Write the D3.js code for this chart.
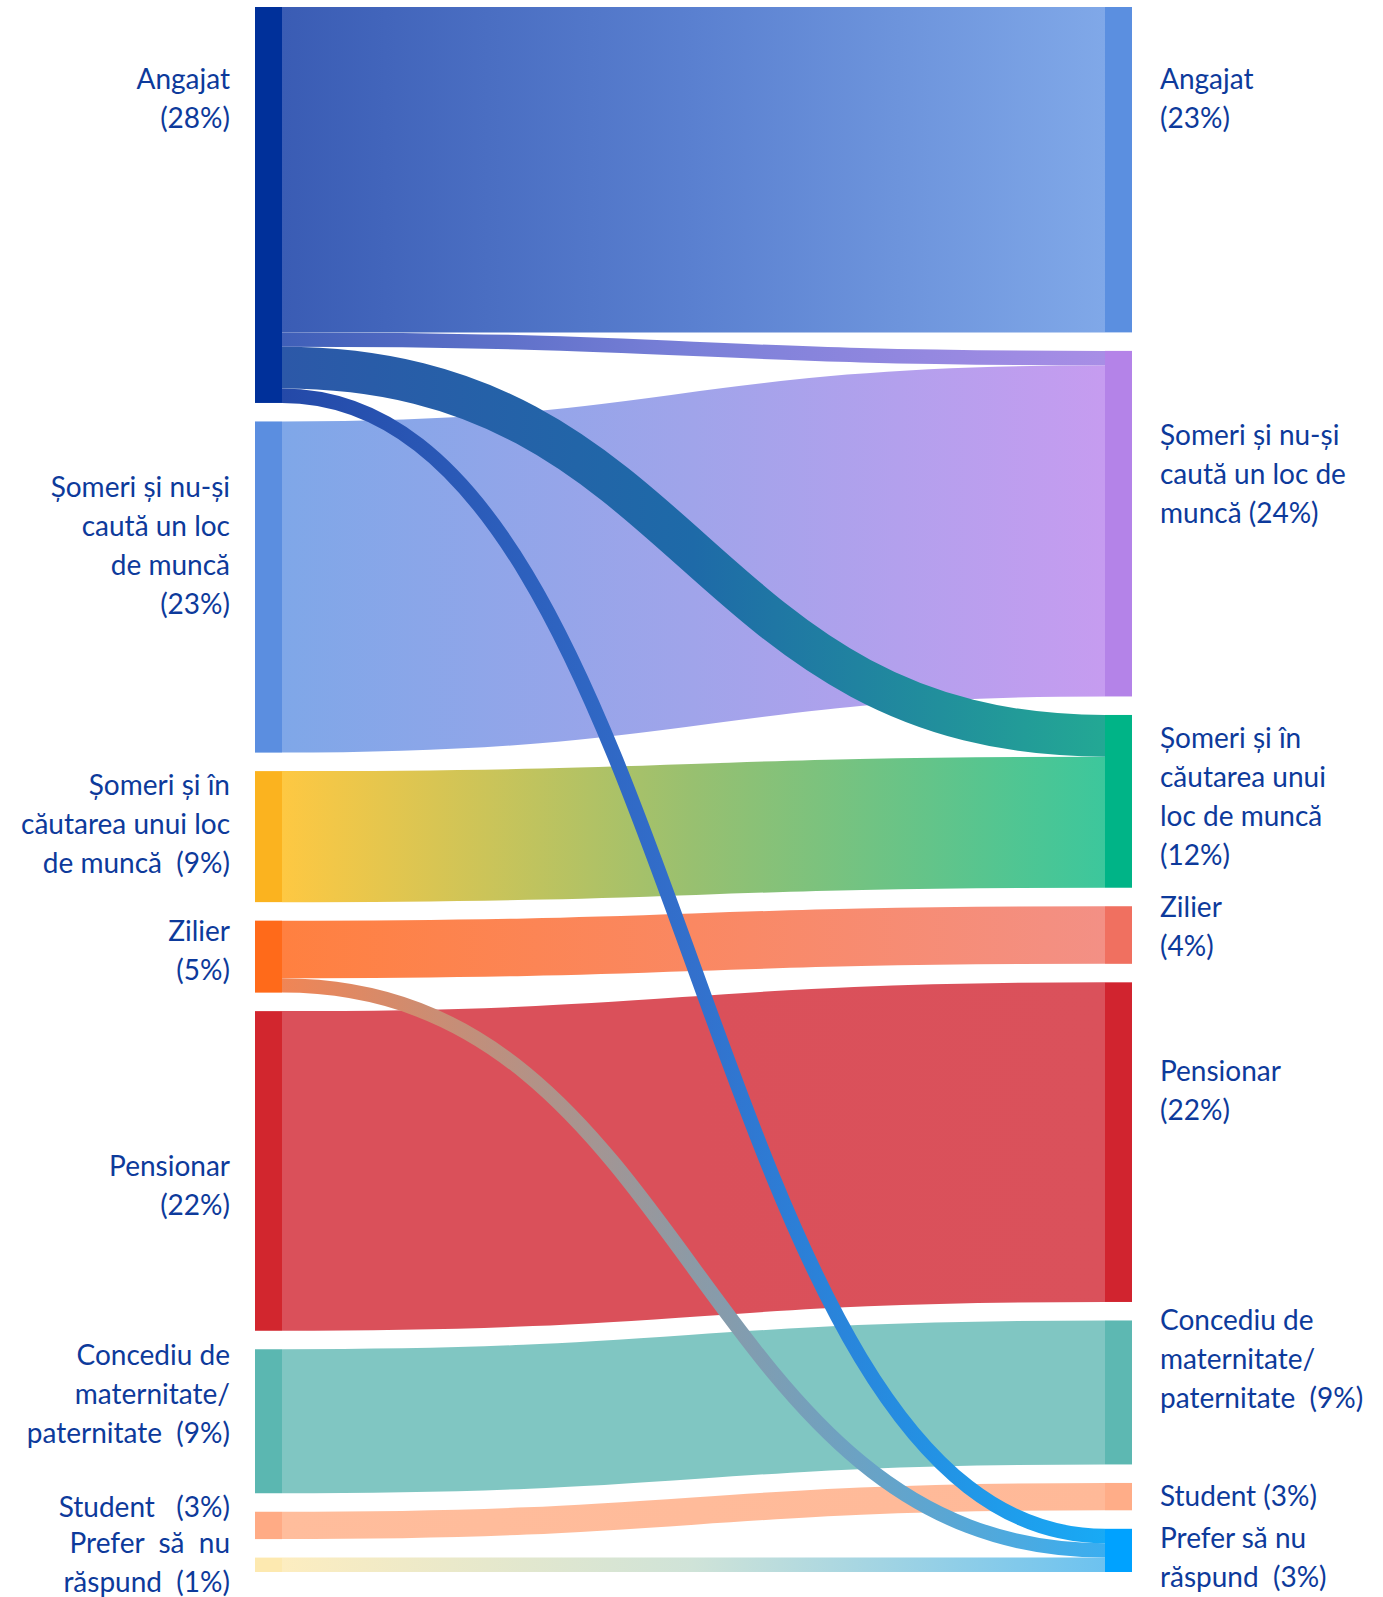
<!DOCTYPE html>
<html>
<head>
<meta charset="utf-8">
<script src="https://cdn.jsdelivr.net/npm/d3@7"></script>
<style>
  body { margin: 0; background: #fff; }
  text { font-family: Lato, "Open Sans", sans-serif; font-size: 28px; fill: #0d3a9b; white-space: pre; }
</style>
</head>
<body>
<svg id="chart" width="1383" height="1597"></svg>
<script>
// categories (same order on both sides)
const nodeKeys = ["ang", "snc", "sic", "zil", "pen", "con", "stu", "pref"];

// flows, values in % of respondents
const flowSource = ["ang", "ang", "ang", "ang", "snc", "sic", "zil", "zil", "pen", "con", "stu", "pref"];
const flowTarget = ["ang", "snc", "sic", "pref", "snc", "sic", "zil", "pref", "pen", "con", "stu", "pref"];
const flowValue  = [22.6, 1.0, 2.9, 1.0, 23.0, 9.1, 4.0, 1.0, 22.2, 10.0, 1.9, 1.0];

// labels
const leftLabels = [
  ["Angajat", "(28%)"],
  ["Șomeri și nu-și", "caută un loc", "de muncă", "(23%)"],
  ["Șomeri și în", "căutarea unui loc", "de muncă  (9%)"],
  ["Zilier", "(5%)"],
  ["Pensionar", "(22%)"],
  ["Concediu de", "maternitate/", "paternitate  (9%)"],
  ["Student   (3%)"],
  ["Prefer  să  nu", "răspund  (1%)"]
];
const rightLabels = [
  ["Angajat", "(23%)"],
  ["Șomeri și nu-și", "caută un loc de", "muncă (24%)"],
  ["Șomeri și în", "căutarea unui", "loc de muncă", "(12%)"],
  ["Zilier", "(4%)"],
  ["Pensionar", "(22%)"],
  ["Concediu de", "maternitate/", "paternitate  (9%)"],
  ["Student (3%)"],
  ["Prefer să nu", "răspund  (3%)"]
];

// colours
const leftColors  = ["#00309a", "#5b8ee0", "#fbb31f", "#ff6a1a", "#d2262e", "#5bb7b1", "#ffab85", "#fde9b0"];
const rightColors = ["#5b8fe0", "#b483e8", "#00b487", "#f07060", "#d1242f", "#5db8b2", "#ffad88", "#00a2ff"];
const linkColors = [
  ["#3a5cb4", "#5a80d0", "#80a8e8"],
  ["#3f5fb8", "#7a80d8", "#a88ee6"],
  ["#2c58a8", "#1e6aa8", "#23a894"],
  ["#2449a8", "#3370cc", "#18aaf5"],
  ["#7fa7e8", "#a0a4ea", "#c69cf0"],
  ["#fec842", "#98c070", "#3cc79c"],
  ["#ff8040", "#fa8862", "#f39085"],
  ["#f08555", "#8c9aa6", "#3aaef0"],
  ["#da505a", "#da505a", "#da515b"],
  ["#80c6c2", "#80c6c2", "#80c6c2"],
  ["#ffbd9c", "#ffbb9a", "#ffb998"],
  ["#fdedc0", "#cfe3d8", "#6cc2f0"]
];

// label placement: first line offset from node top
const leftLabelOffset  = [71, 65, 13, 9, 154, 5, -6, -16];
const rightLabelOffset = [71, 83, 22, 0, 88, -1, 12, 8];

const svg = d3.select("#chart");
const yTop = 7, yBottom = 1572, gap = 18.5, nodeW = 27, lineH = 39;

const x = d3.scaleLinear().domain([0, 1]).range([255, 1105]);
const total = d3.sum(flowValue);
const y = d3.scaleLinear().domain([0, total]).range([0, yBottom - yTop - gap * (nodeKeys.length - 1)]);

const links = flowValue.map((v, i) => ({
  i, value: v,
  s: nodeKeys.indexOf(flowSource[i]),
  t: nodeKeys.indexOf(flowTarget[i])
}));

function buildSide(side) {
  let cur = yTop;
  return nodeKeys.map((k, idx) => {
    const value = d3.sum(links.filter(l => (side === 0 ? l.s : l.t) === idx), l => l.value);
    const n = { idx, value, y0: cur, y1: cur + y(value) };
    cur = n.y1 + gap;
    return n;
  });
}
const leftNodes = buildSide(0);
const rightNodes = buildSide(1);

// slot positions
leftNodes.forEach(n => {
  let cur = n.y0;
  links.filter(l => l.s === n.idx).sort((a, b) => a.t - b.t).forEach(l => {
    l.sy = cur + y(l.value) / 2; cur += y(l.value);
  });
});
rightNodes.forEach(n => {
  let cur = n.y0;
  links.filter(l => l.t === n.idx).sort((a, b) => a.s - b.s).forEach(l => {
    l.ty = cur + y(l.value) / 2; cur += y(l.value);
  });
});

const defs = svg.append("defs");
links.forEach(l => {
  const g = defs.append("linearGradient")
    .attr("id", "grad" + l.i)
    .attr("gradientUnits", "userSpaceOnUse")
    .attr("x1", x(0) + nodeW).attr("x2", x(1))
    .attr("y1", 0).attr("y2", 0);
  linkColors[l.i].forEach((c, j) => {
    g.append("stop").attr("offset", (j / 2 * 100) + "%").attr("stop-color", c);
  });
});

const linkGen = d3.linkHorizontal();
const drawOrder = links.slice().sort((a, b) => Math.abs(a.t - a.s) - Math.abs(b.t - b.s));

svg.append("g")
  .selectAll("path")
  .data(drawOrder)
  .join("path")
  .attr("d", l => linkGen({ source: [x(0) + nodeW, l.sy], target: [x(1), l.ty] }))
  .attr("fill", "none")
  .attr("stroke", l => `url(#grad${l.i})`)
  .attr("stroke-width", l => y(l.value));

// nodes
svg.append("g").selectAll("rect")
  .data(leftNodes).join("rect")
  .attr("x", x(0)).attr("width", nodeW)
  .attr("y", d => d.y0).attr("height", d => d.y1 - d.y0)
  .attr("fill", d => leftColors[d.idx]);

svg.append("g").selectAll("rect")
  .data(rightNodes).join("rect")
  .attr("x", x(1)).attr("width", nodeW)
  .attr("y", d => d.y0).attr("height", d => d.y1 - d.y0)
  .attr("fill", d => rightColors[d.idx]);

// labels
function drawLabels(nodes, labels, offsets, lx, anchor) {
  const g = svg.append("g");
  nodes.forEach(n => {
    labels[n.idx].forEach((line, j) => {
      g.append("text")
        .attr("x", lx)
        .attr("y", n.y0 + offsets[n.idx] + j * lineH)
        .attr("dominant-baseline", "central")
        .attr("text-anchor", anchor)
        .text(line);
    });
  });
}
drawLabels(leftNodes, leftLabels, leftLabelOffset, x(0) - 25, "end");
drawLabels(rightNodes, rightLabels, rightLabelOffset, x(1) + nodeW + 28, "start");
</script>
</body>
</html>
